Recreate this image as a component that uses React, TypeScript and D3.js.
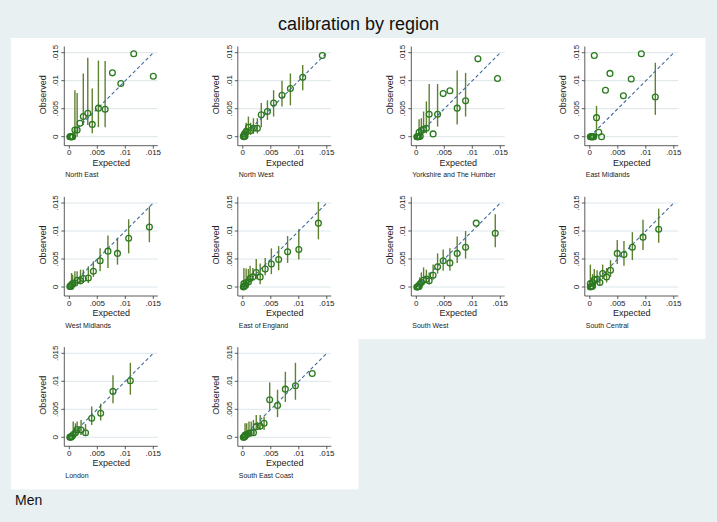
import React from 'react';
import * as d3 from 'd3';

// [expected, observed, ciLow, ciHigh] — null CI means no spike drawn
type Row = [number, number, number | null, number | null];

const northEast: Row[] = [
  [0.0001, 0, null, null], [0.0002, 0, null, null], [0.0003, 0, null, null],
  [0.0004, 0, null, null], [0.0005, 0, null, null], [0.0006, 0, null, null],
  [0.0010, 0.0012, 0.0001, 0.0083], [0.0014, 0.0012, 0.0000, 0.0078],
  [0.0019, 0.0024, null, null], [0.0025, 0.0036, 0.0021, 0.0113],
  [0.0033, 0.0042, 0.0021, 0.0141], [0.0041, 0.0022, 0.0006, 0.0086],
  [0.0052, 0.0051, 0.0017, 0.0136], [0.0064, 0.0049, 0.0017, 0.0135],
  [0.0077, 0.0114, null, null], [0.0092, 0.0095, null, null],
  [0.0115, 0.0148, null, null], [0.0150, 0.0108, null, null],
];

const northWest: Row[] = [
  [0.0001, 0.0001, null, null], [0.0002, 0, null, null], [0.0003, 0.0002, null, null],
  [0.0004, 0.0001, null, null], [0.0003, 0.0005, 0.0000, 0.0015],
  [0.0006, 0.0009, 0.0001, 0.0025], [0.0010, 0.0017, 0.0003, 0.0036],
  [0.0014, 0.0011, 0.0003, 0.0025], [0.0019, 0.0015, 0.0005, 0.0033],
  [0.0026, 0.0015, 0.0006, 0.0033], [0.0033, 0.0039, 0.0017, 0.0060],
  [0.0044, 0.0045, 0.0030, 0.0065], [0.0055, 0.0060, 0.0036, 0.0083],
  [0.0070, 0.0074, 0.0054, 0.0100], [0.0085, 0.0086, 0.0056, 0.0113],
  [0.0107, 0.0106, 0.0083, 0.0128], [0.0142, 0.0145, null, null],
];

const yorkshire: Row[] = [
  [0.0001, 0, null, null], [0.0002, 0, null, null], [0.0003, 0, null, null],
  [0.0005, 0, null, null], [0.0007, 0.0001, null, null],
  [0.0005, 0.0008, 0.0001, 0.0031], [0.0009, 0.0011, 0.0003, 0.0033],
  [0.0013, 0.0013, 0.0006, 0.0045], [0.0018, 0.0015, 0.0006, 0.0063],
  [0.0023, 0.0040, 0.0018, 0.0094], [0.0030, 0.0005, null, null],
  [0.0038, 0.0040, 0.0018, 0.0094], [0.0048, 0.0077, null, null],
  [0.0060, 0.0082, null, null], [0.0073, 0.0051, 0.0022, 0.0118],
  [0.0088, 0.0064, 0.0036, 0.0114], [0.0110, 0.0139, null, null],
  [0.0145, 0.0104, null, null],
];

const eastMidlands: Row[] = [
  [0.0001, 0, null, null], [0.0002, 0, null, null], [0.0003, 0, null, null],
  [0.0004, 0, null, null], [0.0005, 0, null, null], [0.0006, 0, null, null],
  [0.0007, 0, null, null], [0.0008, 0.0145, null, null],
  [0.0012, 0.0034, 0.0013, 0.0055], [0.0016, 0.0008, null, null],
  [0.0021, 0, null, null], [0.0028, 0.0083, null, null],
  [0.0036, 0.0113, null, null], [0.0060, 0.0073, null, null],
  [0.0074, 0.0103, null, null], [0.0092, 0.0148, null, null],
  [0.0117, 0.0071, 0.0039, 0.0132],
];

const westMidlands: Row[] = [
  [0.0001, 0.0001, null, null], [0.0002, 0.0002, null, null], [0.0003, 0.0001, null, null],
  [0.0004, 0.0004, 0.0001, 0.0025], [0.0006, 0.0006, 0.0001, 0.0022],
  [0.0010, 0.0007, 0.0004, 0.0028], [0.0014, 0.0012, 0.0004, 0.0028],
  [0.0020, 0.0011, 0.0007, 0.0031], [0.0025, 0.0015, 0.0007, 0.0031],
  [0.0034, 0.0016, 0.0007, 0.0037], [0.0043, 0.0028, 0.0018, 0.0046],
  [0.0055, 0.0047, 0.0028, 0.0069], [0.0069, 0.0064, 0.0034, 0.0092],
  [0.0086, 0.0060, 0.0040, 0.0088], [0.0106, 0.0087, 0.0060, 0.0121],
  [0.0143, 0.0107, 0.0080, 0.0144],
];

const eastOfEngland: Row[] = [
  [0.0001, 0, null, null], [0.0002, 0.0001, null, null], [0.0003, 0.0002, null, null],
  [0.0005, 0.0003, null, null], [0.0002, 0.0006, 0.0000, 0.0034],
  [0.0006, 0.0008, 0.0002, 0.0033], [0.0010, 0.0009, 0.0005, 0.0032],
  [0.0013, 0.0015, 0.0008, 0.0038], [0.0018, 0.0018, 0.0014, 0.0034],
  [0.0024, 0.0026, 0.0014, 0.0050], [0.0031, 0.0018, 0.0005, 0.0042],
  [0.0040, 0.0032, 0.0021, 0.0052], [0.0051, 0.0041, 0.0023, 0.0069],
  [0.0064, 0.0049, 0.0030, 0.0073], [0.0080, 0.0063, 0.0043, 0.0091],
  [0.0100, 0.0067, 0.0049, 0.0103], [0.0135, 0.0114, 0.0085, 0.0152],
];

const southWest: Row[] = [
  [0.0001, 0, null, null], [0.0002, 0, null, null], [0.0003, 0.0001, null, null],
  [0.0005, 0.0001, null, null], [0.0006, 0.0005, 0.0002, 0.0017],
  [0.0009, 0.0008, 0.0002, 0.0026], [0.0013, 0.0012, 0.0005, 0.0035],
  [0.0018, 0.0014, 0.0008, 0.0031], [0.0023, 0.0011, 0.0005, 0.0026],
  [0.0030, 0.0021, 0.0013, 0.0040], [0.0038, 0.0036, 0.0024, 0.0060],
  [0.0048, 0.0047, 0.0029, 0.0067], [0.0060, 0.0043, 0.0029, 0.0069],
  [0.0073, 0.0060, 0.0043, 0.0090], [0.0088, 0.0071, 0.0051, 0.0100],
  [0.0107, 0.0114, null, null], [0.0141, 0.0096, 0.0071, 0.0130],
];

const southCentral: Row[] = [
  [0.0001, 0, null, null], [0.0002, 0.0001, null, null], [0.0004, 0.0001, null, null],
  [0.0005, 0.0002, null, null], [0.0001, 0.0006, 0.0000, 0.0040],
  [0.0005, 0.0008, 0.0002, 0.0023], [0.0008, 0.0013, 0.0005, 0.0032],
  [0.0013, 0.0014, 0.0006, 0.0030], [0.0018, 0.0008, 0.0002, 0.0017],
  [0.0023, 0.0024, 0.0014, 0.0040], [0.0030, 0.0018, 0.0008, 0.0034],
  [0.0037, 0.0030, 0.0018, 0.0048], [0.0049, 0.0060, 0.0041, 0.0084],
  [0.0061, 0.0058, 0.0038, 0.0082], [0.0076, 0.0071, 0.0048, 0.0098],
  [0.0095, 0.0089, 0.0066, 0.0120], [0.0123, 0.0103, 0.0079, 0.0140],
];

const london: Row[] = [
  [0.0001, 0, null, null], [0.0002, 0.0001, null, null], [0.0003, 0, null, null],
  [0.0005, 0.0002, null, null], [0.0007, 0.0005, 0.0002, 0.0028],
  [0.0011, 0.0008, 0.0005, 0.0025], [0.0014, 0.0014, 0.0005, 0.0028],
  [0.0021, 0.0013, 0.0004, 0.0031], [0.0029, 0.0008, 0.0004, 0.0024],
  [0.0040, 0.0034, 0.0022, 0.0055], [0.0056, 0.0043, 0.0030, 0.0060],
  [0.0078, 0.0082, 0.0061, 0.0111], [0.0109, 0.0101, 0.0076, 0.0133],
];

const southEastCoast: Row[] = [
  [0.0001, 0, null, null], [0.0002, 0, null, null], [0.0003, 0.0001, null, null],
  [0.0004, 0.0002, null, null], [0.0004, 0.0004, 0.0001, 0.0025],
  [0.0007, 0.0005, 0.0002, 0.0025], [0.0011, 0.0007, 0.0004, 0.0028],
  [0.0015, 0.0008, 0.0004, 0.0028], [0.0019, 0.0008, 0.0007, 0.0031],
  [0.0024, 0.0019, 0.0013, 0.0040], [0.0031, 0.0020, 0.0013, 0.0040],
  [0.0038, 0.0025, 0.0013, 0.0037], [0.0048, 0.0067, 0.0049, 0.0098],
  [0.0062, 0.0057, 0.0036, 0.0085], [0.0076, 0.0086, 0.0063, 0.0117],
  [0.0094, 0.0092, 0.0067, 0.0133], [0.0124, 0.0114, null, null],
];

const regionNames = [
  'North East', 'North West', 'Yorkshire and The Humber', 'East Midlands',
  'West Midlands', 'East of England', 'South West', 'South Central',
  'London', 'South East Coast',
];
const regionData = [
  northEast, northWest, yorkshire, eastMidlands,
  westMidlands, eastOfEngland, southWest, southCentral,
  london, southEastCoast,
];
const tickValues = [0, 0.005, 0.01, 0.015];
const tickLabels = ['0', '.005', '.01', '.015'];

const W = 717;
const H = 522;
const FONT = '"Liberation Sans", Arial, Helvetica, sans-serif';
const BG = '#e8f0f2';
const GRID = '#dce6ea';
const POINT = '#2b7a20';
const SPIKE = '#5f8130';
const DIAG = '#3f6b9b';

const cellW = 173.5;
const cellH = 150.3;
const gridLeft = 11;
const gridTop = 38;

function Panel({ name, data, col, row }: { name: string; data: Row[]; col: number; row: number }) {
  const left = gridLeft + col * cellW;
  const top = gridTop + row * cellH;
  const x0 = left + 58.3;
  const y0 = top + 98.7;
  const x = d3.scaleLinear().domain([0, 0.015]).range([x0, x0 + 84]);
  const y = d3.scaleLinear().domain([0, 0.015]).range([y0, y0 - 84]);
  const axX = x0 - 5;
  const axY = y0 + 9;
  const right = x(0.0158);
  const topY = y(0.0161);
  const diag = d3.line<number>().x(d => x(d)).y(d => y(d))([0, 0.015]) ?? '';

  return (
    <g>
      <rect x={left} y={top} width={cellW + 0.5} height={cellH + 0.5} fill="#fff" />
      {tickValues.map(t => (
        <line key={'g' + t} x1={axX} x2={right} y1={y(t)} y2={y(t)} stroke={GRID} strokeWidth={1} />
      ))}
      {data.filter(d => d[2] !== null).map((d, i) => (
        <line key={'s' + i} x1={x(d[0])} x2={x(d[0])} y1={y(d[2] as number)} y2={y(d[3] as number)}
          stroke={SPIKE} strokeWidth={1.4} />
      ))}
      <path d={diag} stroke={DIAG} strokeWidth={1.1} strokeDasharray="3.5,2.5" fill="none" />
      {data.map((d, i) => (
        <circle key={'p' + i} cx={x(d[0])} cy={y(d[1])} r={2.9} fill="none" stroke={POINT} strokeWidth={1.3} />
      ))}
      <line x1={axX} x2={axX} y1={topY} y2={axY} stroke="#333" strokeWidth={0.8} />
      <line x1={axX} x2={right} y1={axY} y2={axY} stroke="#333" strokeWidth={0.8} />
      {tickValues.map((t, i) => (
        <g key={'yt' + t}>
          <line x1={axX - 3} x2={axX} y1={y(t)} y2={y(t)} stroke="#333" strokeWidth={0.8} />
          <text transform={`translate(${axX - 6},${y(t)}) rotate(-90)`} textAnchor="middle"
            fontSize={8} fontFamily={FONT} fill="#222">{tickLabels[i]}</text>
          <line x1={x(t)} x2={x(t)} y1={axY} y2={axY + 3} stroke="#333" strokeWidth={0.8} />
          <text x={x(t)} y={y0 + 18.5} textAnchor="middle" fontSize={8} fontFamily={FONT} fill="#222">
            {tickLabels[i]}
          </text>
        </g>
      ))}
      <text transform={`translate(${x0 - 23.5},${y(0.0075)}) rotate(-90)`} textAnchor="middle"
        fontSize={9} fontFamily={FONT} fill="#222">Observed</text>
      <text x={x(0.0075)} y={y0 + 29} textAnchor="middle" fontSize={9} fontFamily={FONT} fill="#222">Expected</text>
      <text x={x0 - 4} y={y0 + 40.5} fontSize={7} fontFamily={FONT} fill="#222">{name}</text>
    </g>
  );
}

export default function App() {
  return (
    <div style={{ position: 'fixed', left: 0, top: 0 }}>
      <svg width={W} height={H} style={{ display: 'block' }}>
        <rect width={W} height={H} fill={BG} />
        <text x={W / 2} y={29.5} textAnchor="middle" fontSize={18} fontFamily={FONT} fill="#111">
          calibration by region
        </text>
        {regionNames.map((name, i) => (
          <Panel key={name} name={name} data={regionData[i]} col={i % 4} row={Math.floor(i / 4)} />
        ))}
        <text x={15} y={505} fontSize={14} fontFamily={FONT} fill="#111">Men</text>
      </svg>
    </div>
  );
}
